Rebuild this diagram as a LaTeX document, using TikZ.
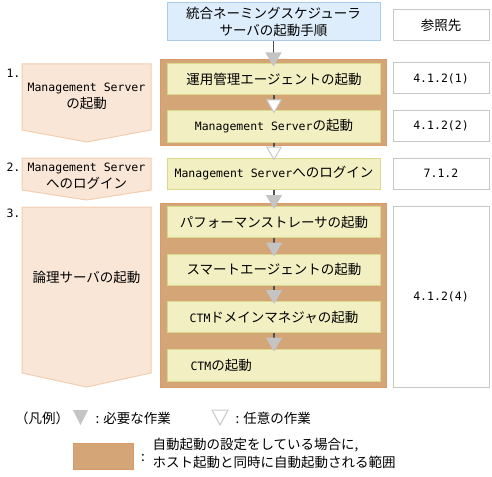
\documentclass[tikz,border=0pt]{standalone}
\usepackage{fontspec}
\setmainfont{Noto Sans CJK JP}
\newfontfamily\monofont{DejaVu Sans Mono}
\usetikzlibrary{arrows.meta,positioning}
\newcommand{\en}[1]{{\monofont\fontsize{11.5}{14}\selectfont #1}}
\definecolor{startfill}{HTML}{DDEDFC}
\definecolor{startline}{HTML}{A9CBEA}
\definecolor{autotan}{HTML}{D4A577}
\definecolor{autoline}{HTML}{D99A6A}
\definecolor{stepfill}{HTML}{F2F0C2}
\definecolor{stepline}{HTML}{D9D88C}
\definecolor{chevfill}{HTML}{F9E6D7}
\definecolor{chevline}{HTML}{F2CDB0}
\definecolor{reqgray}{HTML}{C4C4C4}
\definecolor{optgray}{HTML}{C8C8C8}
\definecolor{wiregray}{HTML}{505050}

\begin{document}
\begin{tikzpicture}[x=1pt,y=-1pt,
    font=\fontsize{13.5}{17}\selectfont,
    stepbox/.style={draw=stepline,line width=1pt,fill=stepfill,inner sep=0pt,
      minimum width=213pt,minimum height=31pt},
    refbox/.style={draw=optgray,line width=1pt,fill=white,inner sep=0pt,
      minimum width=96pt,minimum height=31pt},
    group/.style={fill=autotan,draw=autoline,line width=1pt},
    chevron/.style={fill=chevfill,draw=chevline,line width=1pt},
    req/.style={draw=wiregray,line width=1.2pt,shorten >=-3pt,
      -{Triangle[length=14pt,width=16pt,color=reqgray]}},
    opt/.style={draw=wiregray,line width=1.2pt,shorten >=-3pt,
      -{Triangle[length=14pt,width=16pt,color=optgray,fill=white,line width=1pt]}}]
  \useasboundingbox (0,0) rectangle (492,476);

  % header row
  \node[draw=startline,line width=1pt,fill=startfill,inner sep=0pt,align=center,
    minimum width=213pt,minimum height=38pt] (start) at (273.5,22)
    {統合ネーミングスケジューラ\\サーバの起動手順};
  \node[refbox] (ref0) at (441,25.5) {参照先};

  % step 1
  \node[anchor=west] (num1) at (3,73) {\en{1.}};
  \draw[chevron] (22,64) -- (151,64) -- (151,130) -- (86.5,142) -- (22,130) -- cycle;
  \node[align=center] (lab1) at (86.5,96) {\en{Management Server}\\の起動};
  \draw[group] (160,60) rectangle (386,145);
  \node[stepbox] (s1) at (274,79.5) {運用管理エージェントの起動};
  \node[stepbox] (s2) at (274,126.5) {\en{Management Server}の起動};
  \node[refbox] (ref1) at (441,78.5) {\en{4.1.2(1)}};
  \node[refbox] (ref2) at (441,126) {\en{4.1.2(2)}};

  % step 2
  \node[anchor=west] (num2) at (3,167) {\en{2.}};
  \draw[chevron] (22,158) -- (151,158) -- (151,190) -- (86.5,200) -- (22,190) -- cycle;
  \node[align=center] (lab2) at (86.5,176) {\en{Management Server}\\へのログイン};
  \node[stepbox] (s3) at (274,173.5) {\en{Management Server}へのログイン};
  \node[refbox] (ref3) at (441,173.5) {\en{7.1.2}};

  % step 3
  \node[anchor=west] (num3) at (3,213) {\en{3.}};
  \draw[chevron] (22,207) -- (151,207) -- (151,373) -- (86.5,387) -- (22,373) -- cycle;
  \node (lab3) at (86.5,277) {論理サーバの起動};
  \draw[group] (160,203) rectangle (386,387);
  \node[stepbox] (s4) at (274,222) {パフォーマンストレーサの起動};
  \node[stepbox] (s5) at (274,269.5) {スマートエージェントの起動};
  \node[stepbox] (s6) at (274,317) {\en{CTM}ドメインマネジャの起動};
  \node[stepbox,minimum height=32pt] (s7) at (274,365) {};
  \node[anchor=west] (s7txt) at (187,365) {\en{CTM}の起動};
  \node[refbox,minimum height=181pt] (ref4) at (441,296.5) {\en{4.1.2(4)}};

  % connectors
  \draw[req] (start.south) -- (start.south |- s1.north);
  \draw[opt] (s1) -- (s2);
  \draw[opt] (s2) -- (s3);
  \draw[req] (s3) -- (s4);
  \draw[req] (s4) -- (s5);
  \draw[req] (s5) -- (s6);
  \draw[req] (s6) -- (s7);

  % legend
  \node (legend) at (42,418) {（凡例）};
  \fill[reqgray] (73,410) -- (88,410) -- (80.5,425) -- cycle;
  \node[anchor=west] (reqtxt) at (92,418) {: 必要な作業};
  \draw[optgray,line width=1pt,fill=white] (212,410) -- (228,410) -- (220,425) -- cycle;
  \node[anchor=west] (opttxt) at (232,418) {: 任意の作業};
  \draw[group] (73,443) rectangle (133,469);
  \node (colon) at (143,458) {:};
  \node[anchor=west,align=left,font=\fontsize{13.5}{18}\selectfont] (autotxt) at (149,453)
    {自動起動の設定をしている場合に,\\ホスト起動と同時に自動起動される範囲};
\end{tikzpicture}
\end{document}
